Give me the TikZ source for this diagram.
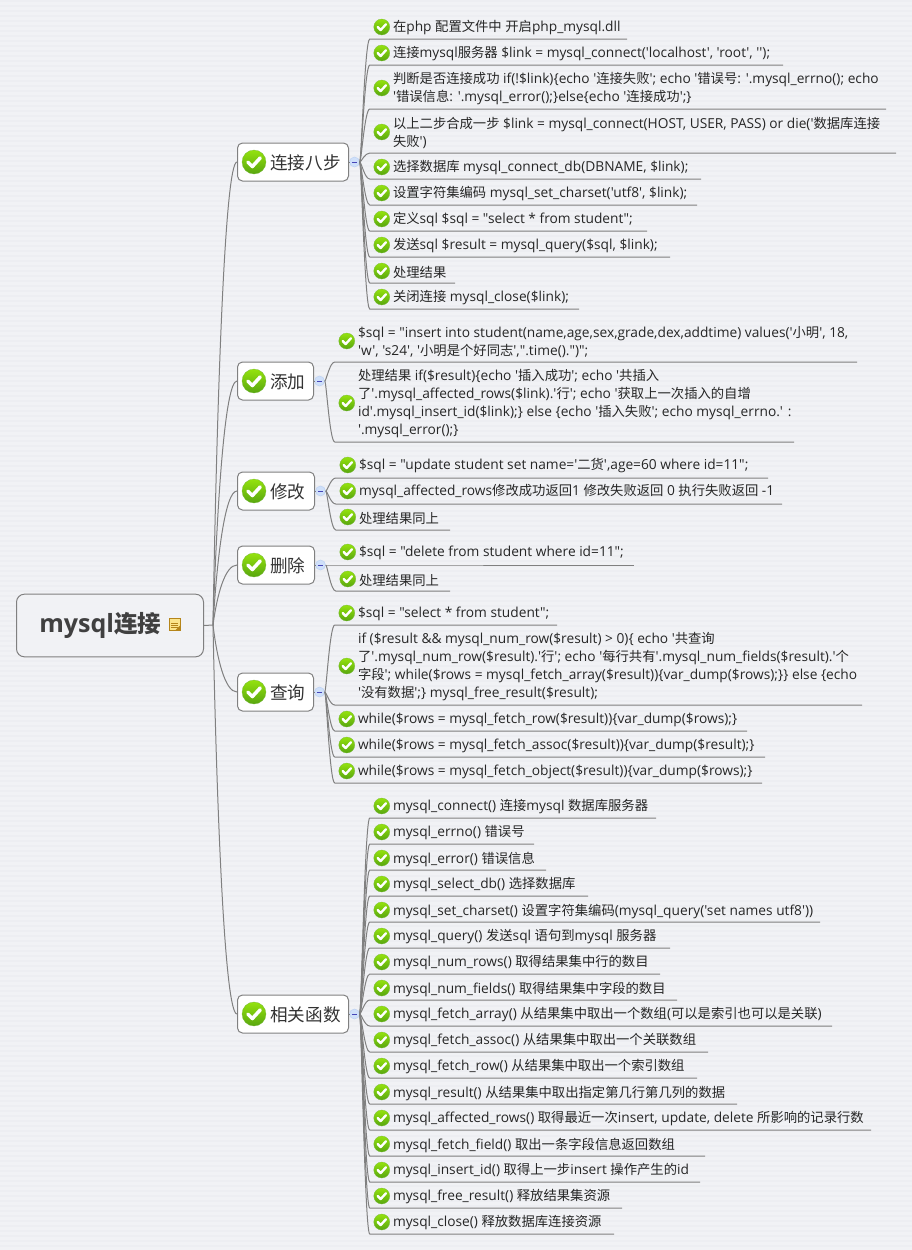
\documentclass[tikz,border=0pt]{standalone}
\usepackage{fontspec}
\usetikzlibrary{calc}
\newfontfamily\latinfont{Open Sans}
\newfontfamily\cjkfont[Scale=0.97]{Noto Sans CJK SC}
% chinese characters switch to the cjk font by themselves
\newXeTeXintercharclass\cjkclass
\newcount\cjkchar
\cjkchar="4E00
\loop\XeTeXcharclass\cjkchar=\cjkclass\advance\cjkchar by 1\ifnum\cjkchar<"9FFF\repeat
\XeTeXinterchartokenstate=1
\XeTeXinterchartoks 0 \cjkclass={\begingroup\cjkfont}
\XeTeXinterchartoks 4095 \cjkclass={\begingroup\cjkfont}
\XeTeXinterchartoks \cjkclass 0={\endgroup}
\XeTeXinterchartoks \cjkclass 4095={\endgroup}
\definecolor{pagebg}{HTML}{F1F2F5}
\definecolor{stripebg}{HTML}{EDEEF2}
\definecolor{linkgrey}{HTML}{808080}
\definecolor{okgreen}{HTML}{94E20E}
\definecolor{okdark}{HTML}{58A60F}
\definecolor{foldblue}{HTML}{CFE0FA}
\definecolor{foldedge}{HTML}{BFD3F2}
\definecolor{noteedge}{HTML}{B5851A}
\definecolor{notefill}{HTML}{FBE58C}
\tikzset{
	link/.style={draw=linkgrey, line width=0.75pt},
	okmark/.style={circle, minimum size=#1*0.75pt, inner sep=0pt, top color=okgreen, bottom color=okdark, draw=okdark!80, line width=0.2pt,
		path picture={\draw[white, line width=#1*0.11pt, line cap=round, line join=round] ($(path picture bounding box.center)+(-#1*0.26,0)$) -- ++(#1*0.19,#1*0.19) -- ++(#1*0.33,-#1*0.36);}},
	leaftext/.style={anchor=west, align=left, inner sep=0pt, text=black!85, font=\latinfont\fontsize{10.3}{13.5}\selectfont},
	branchbox/.style={draw=linkgrey, fill=white, rounded corners=3.75pt, line width=0.75pt, minimum height=28.5pt, inner sep=0pt},
	branchtext/.style={anchor=west, inner sep=0pt, text=black!80, font=\cjkfont\fontsize{13.6}{16}\selectfont},
	foldmark/.style={circle, draw=foldedge, fill=foldblue, minimum size=7.5pt, inner sep=0pt, line width=0.4pt,
		path picture={\draw[blue!45!gray, line width=0.5pt] ($(path picture bounding box.center)+(-2pt,0)$) -- ++(4pt,0);}}
}
% #1 hub, #2 name, #3 y, #4 y of the rule, #5 end of the rule, #6 text
\newcommand\leaf[6]{
	\coordinate (#2a) at (#1 |- 0,#3);
	\node[okmark=16] (#2i) at ($(#2a)+(22,0)$) {};
	\node[leaftext] (#2) at ($(#2a)+(33,1)$) {#6};
	\coordinate (#2s) at ($(#1 |- 0,#4)+(10,0)$);
	\coordinate (#2e) at (#5,#4);
	\draw[link] (#1) .. controls ($(#1)+(1.5,0)$) and ($(#2s)+(-5,0)$) .. (#2s) -- (#2e);
}
% #1 name, #2 y, #3 x of the right side, #4 text
\newcommand\branch[4]{
	\node[branchbox, minimum width=(#3-237)*0.75pt, anchor=west] (#1) at (237,#2) {};
	\node[okmark=24] (#1i) at (254,#2) {};
	\node[branchtext] (#1t) at (270,#2+1) {#4};
	\node[foldmark] (#1f) at ($(#1.east)+(5.5,0)$) {};
	\coordinate (#1h) at ($(#1f.east)$);
	\draw[link] (#1.east) -- (#1f.west);
	\draw[link] (roothub) .. controls ($(roothub)!.5!(roothub |- #1.west)+(4,0)$) and ($(#1.west)+(-12,0)$) .. (#1.west);
}

\begin{document}
\begin{tikzpicture}[x=0.75pt, y=-0.75pt]
	\useasboundingbox (0,0) rectangle (912,1250);
	\fill[pagebg] (0,0) rectangle (912,1250);
	\foreach \row in {0,5,...,1245} \fill[stripebg] (0,\row) rectangle (912,\row+2);

	% centre
	\node[draw=linkgrey, fill=pagebg, rounded corners=6pt, line width=0.75pt, minimum width=140.25pt, minimum height=47pt, inner sep=0pt] (root) at (110,625.5) {};
	\node[inner sep=0pt, anchor=west, text=black!75, font=\latinfont\bfseries\fontsize{18.8}{22}\selectfont] (roott) at (39,625) {mysql{\cjkfont\bfseries\fontsize{18.2}{22}\selectfont 连接}};
	\node[draw=noteedge, fill=notefill, minimum width=8pt, minimum height=9.5pt, inner sep=0pt, line width=0.75pt,
		path picture={\foreach \k in {-2.4,-0.9,0.6} \draw[noteedge, line width=0.5pt] ($(path picture bounding box.center)+(-2.7pt,\k pt)$) -- ++(5.4pt,0);
			\fill[noteedge] (path picture bounding box.south east) -- ++(-4pt,0) -- ++(4pt,4pt) -- cycle;}] (note) at (174.7,624.5) {};
	\coordinate (roothub) at (213,625);
	\draw[link] (root.east) -- (roothub);

	% connect
	\branch{lian}{162}{348}{连接八步}
	\leaf{lianh}{a1}{27}{39}{627}{在php 配置文件中 开启php\_mysql.dll}
	\leaf{lianh}{a2}{53}{65}{783}{连接mysql服务器 \$link = mysql\_connect('localhost', 'root', '');}
	\leaf{lianh}{a3}{88}{109}{886}{判断是否连接成功 if(!\$link)\{echo '连接失败'; echo '错误号: '.mysql\_errno(); echo\\'错误信息: '.mysql\_error();\}else\{echo '连接成功';\}}
	\leaf{lianh}{a4}{132}{153}{896}{以上二步合成一步 \$link = mysql\_connect(HOST, USER, PASS) or die('数据库连接\\失败')}
	\leaf{lianh}{a5}{167}{179}{701}{选择数据库 mysql\_connect\_db(DBNAME, \$link);}
	\leaf{lianh}{a6}{193}{205}{697}{设置字符集编码 mysql\_set\_charset('utf8', \$link);}
	\leaf{lianh}{a7}{219}{231}{647}{定义sql \$sql = "select * from student";}
	\leaf{lianh}{a8}{245}{257}{670}{发送sql \$result = mysql\_query(\$sql, \$link);}
	\leaf{lianh}{a9}{271}{283}{455}{处理结果}
	\leaf{lianh}{a10}{297}{309}{579}{关闭连接 mysql\_close(\$link);}

	% insert
	\branch{tian}{381}{313}{添加}
	\leaf{tianh}{b1}{341}{362}{857}{\$sql = "insert into student(name,age,sex,grade,dex,addtime) values('小明', 18,\\'w', 's24', '小明是个好同志',".time().")";}
	\leaf{tianh}{b2}{403}{442}{794}{处理结果 if(\$result)\{echo '插入成功'; echo '共插入\\了'.mysql\_affected\_rows(\$link).'行'; echo '获取上一次插入的自增\\id'.mysql\_insert\_id(\$link);\} else \{echo '插入失败'; echo mysql\_errno.' :\\'.mysql\_error();\}}

	% update
	\branch{xiu}{491}{314}{修改}
	\leaf{xiuh}{c1}{465}{478}{768}{\$sql = "update student set name='二货',age=60 where id=11";}
	\leaf{xiuh}{c2}{491}{504}{782}{mysql\_affected\_rows修改成功返回1 修改失败返回 0 执行失败返回 -1}
	\leaf{xiuh}{c3}{517}{530}{450}{处理结果同上}

	% delete
	\branch{shan}{565}{314}{删除}
	\leaf{shanh}{d1}{552}{565}{634}{\$sql = "delete from student where id=11";}
	\leaf{shanh}{d2}{579}{591}{450}{处理结果同上}

	% select
	\branch{cha}{692}{313}{查询}
	\leaf{chah}{e1}{613}{625}{557}{\$sql = "select * from student";}
	\leaf{chah}{e2}{666}{705}{862}{if (\$result \&\& mysql\_num\_row(\$result) > 0)\{ echo '共查询\\了'.mysql\_num\_row(\$result).'行'; echo '每行共有'.mysql\_num\_fields(\$result).'个\\字段'; while(\$rows = mysql\_fetch\_array(\$result))\{var\_dump(\$rows);\}\} else \{echo\\'没有数据';\} mysql\_free\_result(\$result);}
	\leaf{chah}{e3}{719}{731}{747}{while(\$rows = mysql\_fetch\_row(\$result))\{var\_dump(\$rows);\}}
	\leaf{chah}{e4}{745}{757}{765}{while(\$rows = mysql\_fetch\_assoc(\$result))\{var\_dump(\$result);\}}
	\leaf{chah}{e5}{771}{783}{762}{while(\$rows = mysql\_fetch\_object(\$result))\{var\_dump(\$rows);\}}

	% functions
	\branch{han}{1014}{348}{相关函数}
	\leaf{hanh}{f1}{806}{818}{656}{mysql\_connect() 连接mysql 数据库服务器}
	\leaf{hanh}{f2}{832}{844}{534}{mysql\_errno() 错误号}
	\leaf{hanh}{f3}{858}{870}{546}{mysql\_error() 错误信息}
	\leaf{hanh}{f4}{884}{896}{588}{mysql\_select\_db() 选择数据库}
	\leaf{hanh}{f5}{910}{922}{820}{mysql\_set\_charset() 设置字符集编码(mysql\_query('set names utf8'))}
	\leaf{hanh}{f6}{936}{948}{670}{mysql\_query() 发送sql 语句到mysql 服务器}
	\leaf{hanh}{f7}{962}{974}{660}{mysql\_num\_rows() 取得结果集中行的数目}
	\leaf{hanh}{f8}{988}{1000}{677}{mysql\_num\_fields() 取得结果集中字段的数目}
	\leaf{hanh}{f9}{1014}{1026}{832}{mysql\_fetch\_array() 从结果集中取出一个数组(可以是索引也可以是关联)}
	\leaf{hanh}{f10}{1040}{1052}{708}{mysql\_fetch\_assoc() 从结果集中取出一个关联数组}
	\leaf{hanh}{f11}{1066}{1078}{697}{mysql\_fetch\_row() 从结果集中取出一个索引数组}
	\leaf{hanh}{f12}{1092}{1104}{737}{mysql\_result() 从结果集中取出指定第几行第几列的数据}
	\leaf{hanh}{f13}{1118}{1130}{871}{mysql\_affected\_rows() 取得最近一次insert, update, delete 所影响的记录行数}
	\leaf{hanh}{f14}{1144}{1156}{705}{mysql\_fetch\_field() 取出一条字段信息返回数组}
	\leaf{hanh}{f15}{1170}{1182}{700}{mysql\_insert\_id() 取得上一步insert 操作产生的id}
	\leaf{hanh}{f16}{1196}{1208}{622}{mysql\_free\_result() 释放结果集资源}
	\leaf{hanh}{f17}{1222}{1234}{614}{mysql\_close() 释放数据库连接资源}
\end{tikzpicture}
\end{document}
